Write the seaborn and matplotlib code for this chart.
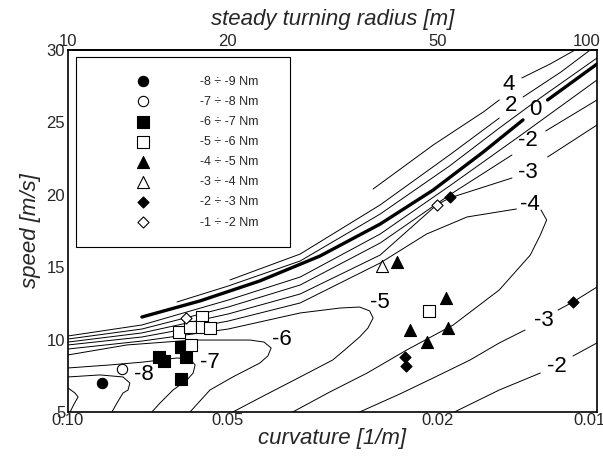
import numpy as np
import matplotlib
matplotlib.use('Agg')
import matplotlib.pyplot as plt
import seaborn as sns
from matplotlib.ticker import NullLocator
from matplotlib.transforms import ScaledTranslation

nan = np.nan

# contour lines (curvature [1/m], speed [m/s]); nan = gap for a label
lvl_p4_c = [0.0265, 0.0204, 0.0164, 0.0153, nan, 0.01387, 0.01227, 0.0110]
lvl_p4_v = [20.40, 23.44, 25.72, 26.55, nan, 28.07, 29.03, 30.00]
lvl_p2_c = [0.0494, 0.0364, 0.0257, 0.0190, 0.0153, nan, 0.0138, 0.0117, 0.0103]
lvl_p2_v = [14.12, 15.91, 19.30, 22.75, 25.30, nan, 26.75, 28.48, 30.00]
lvl_p1_c = [0.0622, 0.0498, 0.0364, 0.0257, 0.0190, 0.0153, 0.0128, 0.0100]
lvl_p1_v = [12.60, 13.70, 15.43, 18.67, 21.99, 24.61, 26.69, 29.45]
lvl_0_c = [0.0725, 0.0563, 0.0434, 0.0334, 0.0257, 0.0204, 0.0164, 0.0138, nan, 0.0124, 0.0100]
lvl_0_v = [11.56, 12.67, 14.05, 15.77, 17.98, 20.33, 22.96, 25.17, nan, 26.55, 29.03]
lvl_m1_c = [0.1000, 0.0725, 0.0498, 0.0364, 0.0257, 0.0190, 0.0140, 0.0100]
lvl_m1_v = [10.25, 11.01, 12.73, 14.32, 17.29, 20.61, 24.06, 27.93]
lvl_m2_c = [0.1000, 0.0725, 0.0498, 0.0364, 0.0257, 0.0190, 0.01448, nan, 0.0125, 0.0100]
lvl_m2_v = [10.04, 10.73, 12.25, 13.77, 16.67, 19.99, 22.75, nan, 24.41, 26.55]
lvl_m3_c = [0.1000, 0.0725, 0.0498, 0.0364, 0.0257, 0.0201, 0.0190, 0.01448, nan, 0.0124, 0.0100]
lvl_m3_v = [9.83, 10.46, 11.77, 13.15, 15.84, 19.30, 19.78, 21.16, nan, 22.61, 24.82]
lvl_m4_c = [0.1000, 0.0725, 0.0498, 0.0364, 0.0257, 0.0210, 0.0176, 0.0142, nan,
            0.01276, 0.01245, 0.0128, 0.01337, 0.0153, 0.0187, 0.0229, 0.0272, 0.0320, 0.0376]
lvl_m4_v = [9.63, 10.18, 11.28, 12.53, 15.29, 17.29, 18.47, 19.02, nan,
            18.95, 18.26, 17.22, 15.84, 13.43, 11.01, 9.28, 7.69, 6.38, 5.00]
lvl_m5_c = [0.1000, 0.0725, 0.0498, 0.0364, 0.0306, 0.0281, 0.0269, 0.0265, 0.0271,
            0.0281, 0.0300, 0.0316, 0.0364, 0.0424, 0.0488]
lvl_m5_v = [9.35, 9.90, 10.73, 11.84, 12.18, 12.25, 11.98, 11.49, 10.80,
            10.18, 9.28, 8.59, 7.42, 6.17, 5.00]
lvl_m6_c = [0.1000, 0.0774, 0.0580, 0.0453, 0.0426, 0.0413, 0.0419, 0.0434, 0.0488, 0.0539, 0.0588]
lvl_m6_v = [8.94, 9.63, 9.97, 9.97, 9.83, 9.42, 8.87, 8.38, 7.42, 6.52, 5.00]
lvl_m7_c = [0.1000, 0.0833, 0.0721, 0.0622, 0.0588, 0.0575, 0.0580, 0.0596, 0.0633, 0.0670, 0.0694]
lvl_m7_v = [8.04, 8.25, 8.45, 8.73, 8.66, 8.25, 7.69, 7.21, 6.52, 5.62, 5.00]
lvl_m8_c = [0.1000, 0.0870, 0.0787, 0.0764, 0.0770, 0.0787, 0.0808, 0.0826]
lvl_m8_v = [7.42, 7.56, 7.42, 7.00, 6.52, 6.31, 5.62, 5.00]
lvl_m9_c = [0.1000, 0.0970, 0.0957, 0.0974, 0.0991]
lvl_m9_v = [6.66, 6.31, 6.04, 5.55, 5.00]
lvl_m3_low_c = [0.0281, 0.0236, 0.0204, 0.01738, 0.0153, 0.01368, nan, 0.01185, 0.0111, 0.0100]
lvl_m3_low_v = [5.00, 6.24, 7.35, 8.59, 9.77, 10.66, nan, 12.04, 12.60, 13.63]
lvl_m2_low_c = [0.0186, 0.0153, 0.0128, nan, 0.0111, 0.0100]
lvl_m2_low_v = [5.00, 6.52, 7.69, nan, 8.87, 9.77]

thin_lines = [(lvl_p4_c, lvl_p4_v), (lvl_p2_c, lvl_p2_v), (lvl_p1_c, lvl_p1_v),
              (lvl_m1_c, lvl_m1_v), (lvl_m2_c, lvl_m2_v), (lvl_m3_c, lvl_m3_v),
              (lvl_m4_c, lvl_m4_v), (lvl_m5_c, lvl_m5_v), (lvl_m6_c, lvl_m6_v),
              (lvl_m7_c, lvl_m7_v), (lvl_m8_c, lvl_m8_v), (lvl_m9_c, lvl_m9_v),
              (lvl_m3_low_c, lvl_m3_low_v), (lvl_m2_low_c, lvl_m2_low_v)]

# contour labels
lab_text = ['4', '2', '0', '-2', '-3', '-4', '-5', '-6', '-7', '-8', '-3', '-2']
lab_c = [0.0147, 0.01455, 0.0131, 0.0135, 0.0135, 0.0134, 0.0257, 0.0395, 0.0539, 0.0719, 0.0126, 0.0119]
lab_v = [27.65, 26.15, 25.86, 23.78, 21.57, 19.30, 12.53, 10.04, 8.45, 7.56, 11.35, 8.11]

# measured points, by torque range
grp_names = ['-8 ÷ -9 Nm', '-7 ÷ -8 Nm', '-6 ÷ -7 Nm', '-5 ÷ -6 Nm',
             '-4 ÷ -5 Nm', '-3 ÷ -4 Nm', '-2 ÷ -3 Nm', '-1 ÷ -2 Nm']
grp_c = [[0.0862],
         [0.0790],
         [0.0673, 0.0659, 0.0598, 0.0612, 0.0612],
         [0.0617, 0.0588, 0.0558, 0.0558, 0.0539, 0.0585, 0.0208],
         [0.0239, 0.0193, 0.0226, 0.0191, 0.0210],
         [0.0255],
         [0.0231, 0.0230, 0.0190, 0.0111],
         [0.0598, 0.0201]]
grp_v = [[7.00],
         [7.97],
         [8.80, 8.52, 8.80, 7.28, 9.49],
         [10.52, 10.87, 11.56, 10.87, 10.80, 9.63, 11.98],
         [15.36, 12.87, 10.66, 10.80, 9.83],
         [15.08],
         [8.80, 8.18, 19.85, 12.60],
         [11.49, 19.30]]
grp_marker = ['o', 'o', 's', 's', '^', '^', 'D', 'D']
grp_fill = ['black', 'white', 'black', 'white', 'black', 'white', 'black', 'white']
grp_size = [55, 55, 75, 75, 75, 75, 32, 32]

sns.set_theme(style='white')
plt.rcParams['font.family'] = ['Liberation Sans', 'DejaVu Sans']
plt.rcParams['axes.edgecolor'] = 'black'

fig = plt.figure(figsize=(6.03, 4.58), dpi=100)
ax = fig.add_axes([68 / 603, 1 - 412 / 458, 529 / 603, 362 / 458])
ax.set_xscale('log')


def draw(c, v, lw):
    c = np.asarray(c, dtype=float)
    v = np.asarray(v, dtype=float)
    cuts = np.where(np.isnan(c))[0]
    for sc, sv in zip(np.split(c, cuts), np.split(v, cuts)):
        ok = ~np.isnan(sc)
        if ok.sum() > 1:
            sns.lineplot(x=sc[ok], y=sv[ok], sort=False, estimator=None,
                         color='black', lw=lw, ax=ax)


for c, v in thin_lines:
    draw(c, v, 0.7)
draw(lvl_0_c, lvl_0_v, 2.4)

for t, c, v in zip(lab_text, lab_c, lab_v):
    ax.text(c, v, t, ha='center', va='center', fontsize=16, color='black')

for name, mk, fc, sz, cs, vs in zip(grp_names, grp_marker, grp_fill, grp_size, grp_c, grp_v):
    sns.scatterplot(x=cs, y=vs, marker=mk, s=sz, color=fc, edgecolor='black',
                    linewidth=0.8, label=name, ax=ax, zorder=3)

ax.set_xlim(0.1, 0.01)
ax.set_ylim(5, 30)
ax.set_xticks([0.1, 0.05, 0.02, 0.01])
ax.set_xticklabels(['0.10', '0.05', '0.02', '0.01'])
ax.xaxis.set_minor_locator(NullLocator())
ax.set_yticks([5, 10, 15, 20, 25, 30])
ax.tick_params(axis='y', direction='in', length=7, width=0.8, labelsize=12, pad=2)
ax.tick_params(axis='x', length=0, labelsize=12, pad=1)
for sp in ax.spines.values():
    sp.set_linewidth(1.2)
    sp.set_color('black')

ax.set_xlabel('curvature [1/m]', style='italic', fontsize=16, labelpad=0)
ax.set_ylabel('speed [m/s]', style='italic', fontsize=16, labelpad=4)

sec = ax.secondary_xaxis('top', functions=(lambda c: 1 / c, lambda r: 1 / r))
sec.set_xticks([10, 20, 50, 100])
sec.set_xticklabels(['10', '20', '50', '100'])
sec.xaxis.set_minor_locator(NullLocator())
sec.tick_params(length=0, labelsize=12, pad=1)
sec.set_xlabel('steady turning radius [m]', style='italic', fontsize=16, labelpad=6)

leg = ax.legend(loc='upper left', bbox_to_anchor=(0.0151, 0.0, 0.4045, 0.981), mode='expand',
                borderaxespad=0, fontsize=9, frameon=True, fancybox=False, framealpha=1,
                edgecolor='black', borderpad=1.5, labelspacing=0.65, handlelength=7.8,
                handletextpad=0.6, scatterpoints=1)
leg.get_frame().set_linewidth(0.8)

# keep the right-most tick labels inside the picture
fig.canvas.draw()
lb = ax.get_xticklabels()[-1]
lb.set_transform(lb.get_transform() + ScaledTranslation(-8 / 100, 0, fig.dpi_scale_trans))
lb = sec.get_xticklabels()[-1]
lb.set_transform(lb.get_transform() + ScaledTranslation(-10 / 100, 0, fig.dpi_scale_trans))

fig.savefig('out.png', dpi=100)
